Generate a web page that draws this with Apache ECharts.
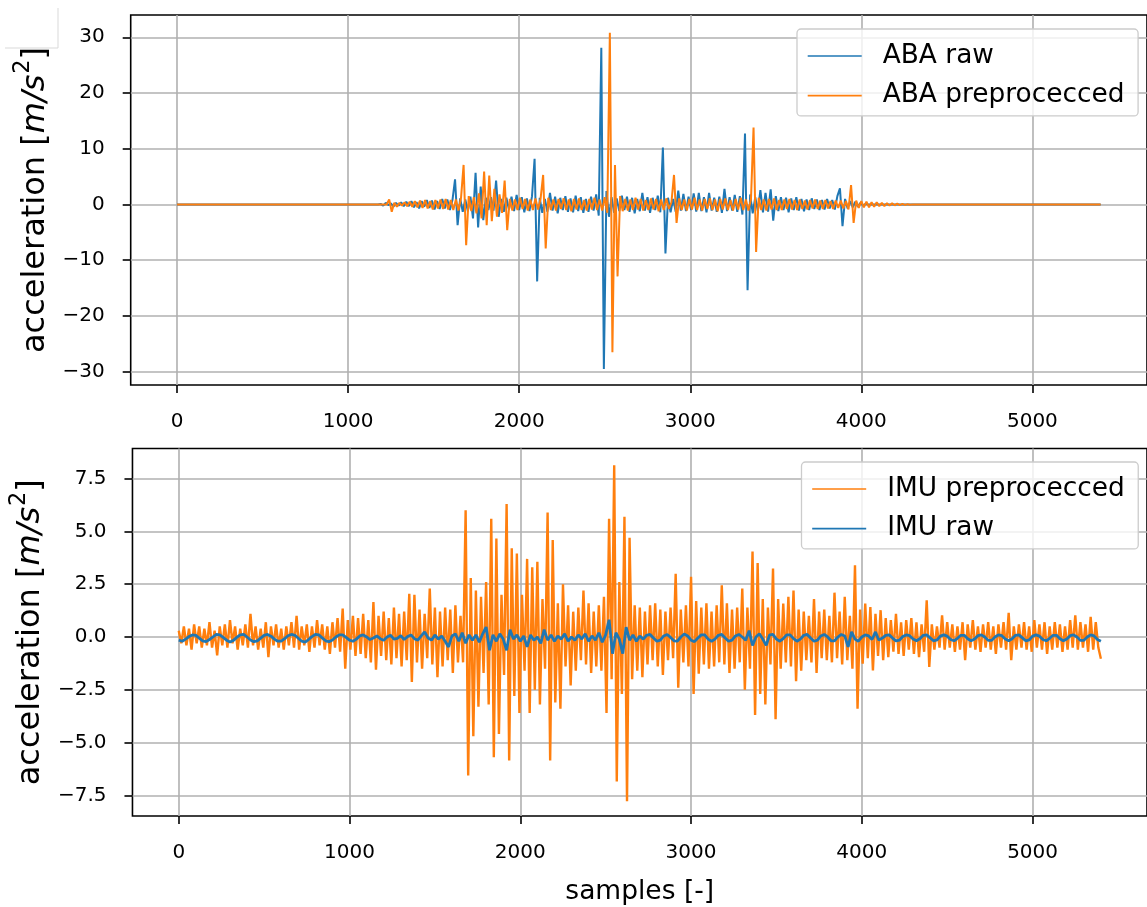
<!DOCTYPE html>
<html><head><meta charset="utf-8">
<script src="https://cdn.jsdelivr.net/npm/echarts@6/dist/echarts.min.js"></script>
<style>html,body{margin:0;padding:0;background:#fff}#c{width:1147px;height:907px}</style>
</head><body><div id="c"></div>
<script>
// ---------- data ----------
const xTicks = [0, 1000, 2000, 3000, 4000, 5000];
const topYTicks = [-30, -20, -10, 0, 10, 20, 30];
const botYTicks = [-7.5, -5, -2.5, 0, 2.5, 5, 7.5];
const lastSample = 5399;

const abaRawName = 'ABA raw';
const abaRawStart = 1190, abaRawStep = 15;
const abaRawValues = [0.1,-0.2,0.3,-0.1,0.2,-0.4,0.3,-0.2,0.4,-0.3,
 0.5,-0.3,0.6,-0.5,0.4,-0.7,0.6,-0.4,0.8,-0.6,
 0.7,-0.9,0.6,-0.8,1.0,-0.7,0.9,-1.0,0.8,4.5,
 -3.7,1.1,-1.3,0.9,-1.2,1.4,-2.5,5.7,-4.1,3.2,
 -2.8,1.2,-1.0,1.3,-1.1,4.3,-2.2,1.0,-1.3,1.2,
 -0.9,1.4,-1.2,1.7,-1.0,1.3,-1.4,1.1,-1.2,1.5,
 8.2,-13.8,1.2,-1.5,1.0,-1.3,2.1,-1.1,1.4,-1.6,
 1.2,-1.0,1.5,-1.3,1.1,-1.4,1.6,-1.2,1.3,-1.5,
 1.0,-1.3,1.4,-1.1,1.8,-2.0,28.1,-29.5,2.4,-2.2,
 1.3,-1.5,1.1,-1.2,1.6,-1.0,1.4,-1.3,1.2,-1.6,
 1.0,-1.2,2.1,-1.1,1.3,-1.5,1.2,-1.0,1.6,-1.4,
 10.2,-8.8,1.2,-1.4,1.0,-1.3,2.5,-1.1,1.9,-1.2,
 1.4,-1.0,2.0,-1.3,2.1,-1.2,1.3,-1.4,2.1,-1.1,
 1.2,-1.3,1.4,-1.5,2.8,-1.2,1.3,-1.1,1.7,-1.3,
 1.5,-1.8,12.75,-15.4,1.8,-1.6,1.3,-1.2,2.6,-1.4,
 2.1,-1.3,2.7,-2.9,1.5,-1.2,1.3,-1.0,1.2,-1.4,
 1.1,-1.0,1.3,-1.1,1.0,-1.2,0.9,-1.0,1.1,-0.8,
 0.9,-1.0,0.8,-0.9,1.0,-0.7,0.8,-0.9,1.5,2.9,
 -3.9,1.0,-0.7,0.6,-0.5,0.5,-0.4,0.3,-0.2,0.1];

const abaPreName = 'ABA preprocecced';
const abaPreStart = 1240, abaPreStep = 15;
const abaPreValues = [0.9,-1.3,0.3,-0.4,0.3,-0.2,0.4,-0.3,0.5,-0.4,
 0.6,-0.5,0.7,-0.6,0.8,-0.7,0.6,-0.9,0.8,-0.7,
 0.9,-0.8,1.0,-0.9,0.8,-1.0,0.9,-1.1,1.2,7.1,
 -7.3,1.5,-1.2,1.3,-1.6,2.0,-2.5,5.9,-3.7,5.2,
 -3.0,2.8,-2.2,1.8,-1.5,4.3,-4.6,1.0,-1.1,0.9,
 -1.0,1.2,-0.8,1.0,-1.1,0.9,-1.0,1.1,-0.9,1.0,
 5.3,-7.9,1.2,-1.0,0.9,-1.1,1.0,-0.8,1.1,-1.0,
 0.9,-1.2,1.0,-0.9,1.1,-1.0,0.8,-1.1,1.0,-0.9,
 1.2,-1.0,0.9,-1.1,1.3,-1.5,30.8,-26.5,7.1,-12.9,
 1.5,-1.2,1.0,-1.1,0.9,-1.0,1.2,-0.9,1.0,-1.1,
 0.8,-1.0,1.1,-0.9,1.0,-1.2,0.9,-1.0,1.1,-0.8,
 0.4,5.3,-3.3,1.1,-1.0,0.9,-1.1,1.0,-0.9,1.2,
 -1.0,0.9,-1.1,1.0,-0.8,1.1,-1.0,0.9,-1.2,1.0,
 -0.9,1.1,-1.0,0.8,-1.1,1.0,-0.9,1.2,-1.0,0.9,
 -1.1,1.0,13.8,-8.5,1.2,-1.0,0.9,-1.1,1.0,-0.9,
 1.1,-1.0,0.8,-1.0,0.9,-0.8,1.0,-0.9,0.8,-1.0,
 0.9,-0.8,0.7,-0.9,0.8,-0.7,0.9,-0.8,0.7,-0.8,
 0.8,-0.7,0.6,-0.8,0.7,-0.6,0.7,-0.7,0.6,-0.9,
 3.5,-3.3,0.7,-0.6,0.6,-0.5,0.5,-0.5,0.4,-0.4,
 0.4,-0.3,0.3,-0.3,0.25,-0.2,0.2,-0.15,0.15,-0.1,
 0.1,-0.08,0.06,-0.04,0.02];

const imuPreName = 'IMU preprocecced';
const imuPreStart = 0, imuPreStep = 15;
const imuPreValues = [0.3,-0.3,0.5,-0.4,0.4,-0.6,0.6,-0.3,0.5,-0.5,
 0.4,-0.4,0.7,-0.5,0.3,-0.87,0.5,-0.4,0.6,-0.5,
 0.8,-0.3,0.5,-0.6,0.4,-0.4,0.6,-0.5,1.1,-0.4,
 0.5,-0.6,0.4,-0.5,0.7,-0.95,0.5,-0.4,0.6,-0.5,
 0.4,-0.6,0.5,-0.4,0.7,-0.5,1.0,-0.6,0.5,-0.4,
 0.6,-0.7,0.5,-0.5,0.8,-0.4,0.6,-0.6,0.5,-0.8,
 0.7,-0.5,0.9,-0.7,1.35,-1.5,0.8,-0.6,1.0,-0.9,
 0.9,-0.8,1.1,-1.0,0.8,-1.2,1.66,-1.55,1.0,-0.9,
 1.2,-1.1,0.9,-1.3,1.4,-1.0,1.1,-1.4,1.2,-1.1,
 2.05,-2.13,2.0,-1.2,1.3,-1.5,1.1,-1.0,2.3,-1.3,
 1.4,-1.9,1.2,-1.4,1.4,-1.1,1.3,-1.7,1.5,-1.2,
 1.0,-1.2,6.0,-6.56,2.8,-4.7,2.2,-3.3,1.9,-1.7,
 2.6,-3.2,5.6,-5.7,4.66,-4.6,2.0,-1.8,6.3,-5.85,
 4.2,-2.8,3.95,-3.6,2.0,-1.6,3.7,-3.6,3.3,-2.5,
 3.56,-3.2,1.8,-1.5,5.9,-5.85,4.6,-3.1,1.6,-3.4,
 2.5,-1.4,1.5,-2.3,1.2,-1.6,1.4,-1.1,2.2,-1.3,
 1.6,-1.7,1.2,-1.4,1.5,-1.6,1.9,-3.6,5.6,-2.0,
 8.14,-6.85,2.6,-2.7,5.7,-7.78,4.7,-2.0,1.5,-1.6,
 1.4,-1.9,1.2,-1.3,1.5,-1.1,1.6,-1.4,1.3,-1.8,
 1.2,-1.1,1.4,-1.0,3.0,-2.4,1.3,-1.2,1.5,-1.4,
 2.85,-2.7,1.7,-1.74,1.4,-1.3,1.6,-1.5,1.2,-1.4,
 1.5,-1.2,2.45,-1.3,1.6,-1.7,1.3,-1.5,1.4,-1.2,
 2.3,-2.5,1.4,-1.5,4.05,-3.7,3.5,-2.7,1.8,-3.2,
 1.4,-1.3,3.24,-3.9,1.8,-1.5,1.58,-1.2,1.9,-1.4,
 2.2,-2.1,1.3,-1.6,1.2,-1.1,1.0,-1.2,1.8,-1.7,
 1.2,-1.0,1.3,-1.1,1.0,-1.2,2.1,-1.0,1.2,-1.3,
 1.9,-1.1,1.0,-1.5,3.4,-3.4,1.3,-1.27,1.58,-1.0,
 1.42,-1.58,1.1,-0.9,1.27,-1.1,0.9,-0.95,0.8,-0.7,
 1.1,-0.8,0.7,-0.9,0.8,-0.6,0.9,-0.8,0.7,-0.95,
 0.6,-0.7,1.74,-1.42,0.6,-0.6,0.5,-0.5,1.03,-0.6,
 0.7,-0.5,0.6,-0.7,0.5,-0.6,0.7,-1.1,0.6,-0.5,
 0.8,-0.6,0.5,-0.7,0.6,-0.5,0.7,-0.6,0.5,-0.8,
 0.6,-0.5,0.7,-0.6,1.14,-1.1,0.5,-0.6,0.6,-0.5,
 0.7,-0.6,0.5,-0.7,0.8,-0.5,0.6,-0.6,0.7,-0.8,
 0.5,-0.6,0.7,-0.5,0.6,-0.7,0.5,-0.6,0.8,-0.5,
 1.03,-0.6,0.7,-0.5,0.6,-0.7,0.95,-0.6,0.7,-0.5,
 -1.03];

const imuRawName = 'IMU raw';
const imuRawStart = 0, imuRawStep = 20;
const imuRawValues = [-0.15,-0.2,-0.1,0.02,0.1,0.08,-0.05,-0.18,-0.22,-0.12,
 0.0,0.12,0.1,-0.02,-0.15,-0.24,-0.16,-0.02,0.1,0.12,
 0.0,-0.14,-0.22,-0.18,-0.05,0.08,0.12,0.04,-0.1,-0.2,
 -0.2,-0.08,0.06,0.12,0.08,-0.06,-0.2,-0.24,-0.12,0.02,
 0.12,0.1,-0.04,-0.18,-0.22,-0.14,0.0,0.1,0.1,-0.02,
 -0.15,-0.2,-0.1,0.05,0.1,0.0,-0.12,-0.05,0.05,-0.08,
 -0.15,0.0,0.08,-0.1,-0.06,0.06,-0.12,0.02,0.1,-0.08,
 -0.15,0.05,0.24,-0.05,-0.15,0.1,-0.1,0.05,-0.2,-0.47,
 0.05,0.15,-0.2,0.2,-0.3,0.1,-0.15,0.1,-0.25,0.15,
 0.47,-0.63,0.1,-0.2,0.15,-0.1,-0.63,0.35,-0.1,0.1,
 -0.2,0.05,-0.47,0.1,-0.15,0.0,-0.3,0.35,-0.15,0.1,
 -0.2,0.05,-0.1,0.15,-0.2,0.0,-0.15,0.1,-0.1,0.15,
 -0.2,0.05,-0.15,0.2,-0.25,0.1,0.82,-0.79,0.2,-0.1,
 -0.79,0.47,-0.15,0.1,-0.2,0.05,-0.1,0.08,0.12,-0.05,
 -0.2,-0.15,0.05,0.12,-0.02,-0.18,-0.2,0.0,0.14,0.05,
 -0.15,-0.22,-0.05,0.1,0.1,-0.1,-0.2,-0.1,0.08,0.12,
 -0.05,-0.2,-0.15,0.05,0.12,0.0,-0.15,0.3,-0.4,0.0,
 0.15,-0.1,-0.4,0.1,0.12,-0.1,-0.2,-0.08,0.1,0.1,
 -0.08,-0.2,-0.1,0.08,0.12,-0.05,-0.2,-0.15,0.05,0.12,
 0.0,-0.18,-0.18,0.0,0.12,0.05,-0.47,0.24,-0.1,-0.2,
 0.0,0.1,0.05,-0.12,0.24,-0.15,-0.05,0.08,0.1,-0.05,
 -0.18,-0.15,0.02,0.1,0.06,-0.1,-0.18,-0.08,0.08,0.1,
 -0.04,-0.18,-0.14,0.04,0.1,0.04,-0.12,-0.18,-0.06,0.08,
 0.08,-0.08,-0.18,-0.1,0.06,0.1,0.0,-0.16,-0.16,0.0,
 0.1,0.06,-0.1,-0.18,-0.08,0.08,0.1,-0.04,-0.18,-0.14,
 0.04,0.1,0.04,-0.12,-0.18,-0.06,0.08,0.08,-0.08,-0.18,
 -0.1,0.06,0.1,0.0,-0.16,-0.16,0.0,0.1,0.05,-0.12,
 -0.2];

// ---------- build [sample, value] tables ----------
function pairs(start, step, values) { return values.map((v, i) => [start + i * step, v]); }
function withFlatEnds(start, step, values) {
  const p = pairs(start, step, values);
  const end = start + step * values.length;
  return [[0, 0], [start - step, 0]].concat(p, [[end, 0], [lastSample, 0]]);
}
const abaRawData = withFlatEnds(abaRawStart, abaRawStep, abaRawValues);
const abaPreData = withFlatEnds(abaPreStart, abaPreStep, abaPreValues);
const imuPreData = pairs(imuPreStart, imuPreStep, imuPreValues);
const imuRawData = pairs(imuRawStart, imuRawStep, imuRawValues);

// ---------- styling ----------
const FONT = 'DejaVu Sans';
const BLUE = '#1f77b4', ORANGE = '#ff7f0e';
const minus = s => String(s).replace('-', '\u2212');

function xAxisCfg(gi, name) {
  return {
    type: 'value', gridIndex: gi, min: -271, max: 5670,
    axisLine: { show: false, onZero: false },
    axisTick: { show: true, length: 8, lineStyle: { color: '#000', width: 1.6 }, customValues: xTicks },
    axisLabel: { customValues: xTicks, margin: 27, fontSize: 20, color: '#000', fontFamily: FONT,
      formatter: v => String(v) },
    splitLine: { show: true, lineStyle: { color: '#b0b0b0', width: 1.6 } },
    name: name, nameLocation: 'middle', nameGap: 63,
    nameTextStyle: { fontSize: 26.5, color: '#000', fontFamily: FONT }
  };
}
const yNameStyle = {
  fontSize: 32, color: '#000', fontFamily: FONT,
  rich: {
    n: { fontSize: 32, fontFamily: FONT, color: '#000' },
    i: { fontSize: 32, fontFamily: FONT, fontStyle: 'italic', color: '#000' },
    s: { fontSize: 22.4, fontFamily: FONT, fontStyle: 'normal', color: '#000', padding: [0, 0, 24, 1] }
  }
};
function yAxisCfg(gi, min, max, ticks, fmt) {
  return {
    type: 'value', gridIndex: gi, min: min, max: max,
    axisLine: { show: false, onZero: false },
    axisTick: { show: true, length: 8, lineStyle: { color: '#000', width: 1.6 }, customValues: ticks },
    axisLabel: { customValues: ticks, margin: 26, fontSize: 20, color: '#000', fontFamily: FONT, formatter: fmt },
    splitLine: { show: true, lineStyle: { color: '#b0b0b0', width: 1.6 } },
    name: '{n|acceleration [}{i|m/s}{s|2}{n|]}', nameLocation: 'middle', nameGap: 69, nameRotate: 90,
    nameTextStyle: yNameStyle
  };
}
function legendCfg(names, left, top) {
  return {
    data: names, orient: 'vertical', left: left, top: top,
    icon: 'rect', itemWidth: 54, itemHeight: 1.6, itemGap: 13.6,
    padding: [14, 13.6, 7.3, 10.7],
    backgroundColor: 'rgba(255,255,255,0.8)', borderColor: '#cccccc', borderWidth: 1.3, borderRadius: 4,
    textStyle: { fontSize: 26.4, fontFamily: FONT, color: '#000', padding: [0, 0, 0, 16] },
    selectedMode: false
  };
}
function lineSeries(name, data, color, width, gi) {
  return {
    name: name, type: 'line', data: data, xAxisIndex: gi, yAxisIndex: gi,
    symbol: 'none', showSymbol: false, sampling: null, silent: true,
    lineStyle: { color: color, width: width }, itemStyle: { color: color },
    emphasis: { disabled: true }
  };
}

const chart = echarts.init(document.getElementById('c'), null, { renderer: 'canvas' });
chart.setOption({
  animation: false,
  backgroundColor: '#fff',
  textStyle: { fontFamily: FONT },
  grid: [
    { left: 130.7, top: 15, width: 1021.1, height: 370, show: true, borderColor: '#000', borderWidth: 1.6 },
    { left: 130.7, top: 448.5, width: 1021.1, height: 367.5, show: true, borderColor: '#000', borderWidth: 1.6 }
  ],
  xAxis: [xAxisCfg(0, ''), xAxisCfg(1, 'samples [-]')],
  yAxis: [
    yAxisCfg(0, -32.39, 34.0, topYTicks, v => minus(Math.round(v))),
    yAxisCfg(1, -8.48, 8.93, botYTicks, v => minus(v.toFixed(1)))
  ],
  legend: [
    legendCfg([abaRawName, abaPreName], 797, 29),
    legendCfg([imuPreName, imuRawName], 801.5, 462)
  ],
  graphic: [
    { type: 'line', shape: { x1: 58, y1: 8, x2: 58, y2: 48 }, style: { stroke: '#d9d9d9', lineWidth: 1 } },
    { type: 'line', shape: { x1: 5, y1: 48, x2: 58, y2: 48 }, style: { stroke: '#d9d9d9', lineWidth: 1 } }
  ],
  series: [
    lineSeries(abaRawName, abaRawData, BLUE, 2.0, 0),
    lineSeries(abaPreName, abaPreData, ORANGE, 2.0, 0),
    lineSeries(imuPreName, imuPreData, ORANGE, 2.4, 1),
    lineSeries(imuRawName, imuRawData, BLUE, 2.8, 1)
  ]
});
</script>
</body></html>
